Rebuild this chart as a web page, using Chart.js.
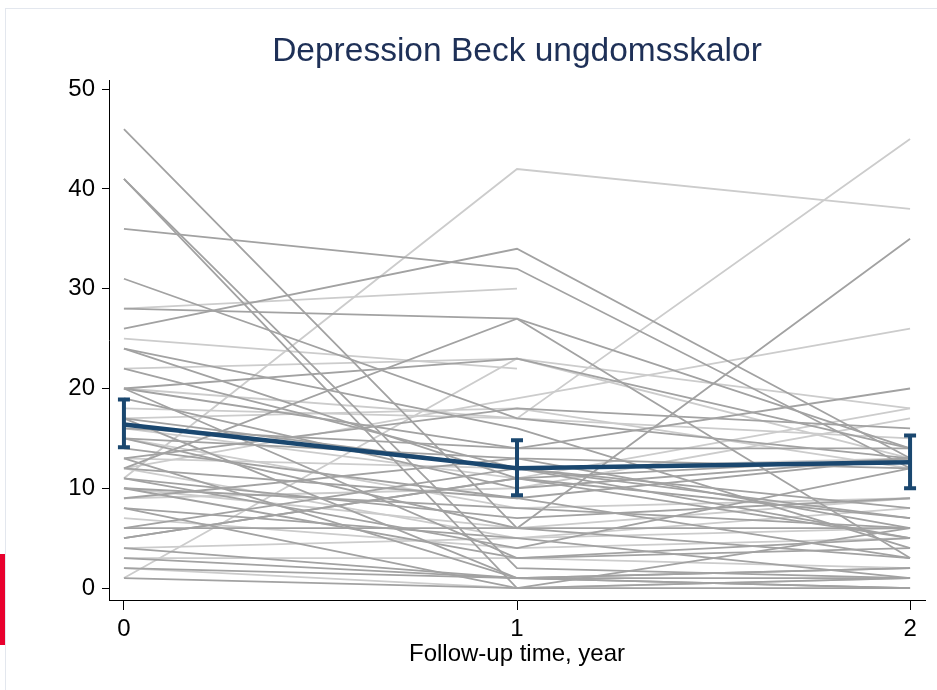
<!DOCTYPE html>
<html>
<head>
<meta charset="utf-8">
<script src="https://cdn.jsdelivr.net/npm/chart.js@4.4.1/dist/chart.umd.min.js"></script>
<style>
  body { margin: 0; background: #fff; }
  #wrap { position: relative; width: 937px; height: 690px; overflow: hidden; }
  #frame { position: absolute; left: 5px; top: 8px; width: 940px; height: 700px;
           border-left: 1px solid #e3e7ee; border-top: 1px solid #e3e7ee; }
  #mark { position: absolute; left: 0; top: 554px; width: 5px; height: 91px; background: #e8002d; }
  canvas { position: absolute; left: 0; top: 0; }
</style>
</head>
<body>
<div id="wrap">
  <div id="frame"></div>
  <div id="mark"></div>
  <canvas id="spaghetti" width="937" height="690"></canvas>
</div>
<script>
// follow-up years and axis ticks
var years = [0, 1, 2];
var yTicks = [0, 10, 20, 30, 40, 50];

// individual scores [year0, year1, year2], null = not measured
var darkSeries = [
  [46, 6, 3], [41, 2, 1], [41, 0, 0], [36, 32, 12], [31, 17, 13],
  [28, 27, 14], [26, 34, 13], [24, 11, 5], [20, 23, 14], [20, 14, 20],
  [15, 6, 35], [17, 12, 7], [16, 14, 14], [13, 18, 16], [12, 9, 13],
  [11, 4, 12], [10, 8, 6], [9, 13, 6], [8, 0, 6], [8, 5, 1],
  [12, 27, 3], [6, 6, 6], [5, 11, 13], [4, 1, 2], [3, 1, 0],
  [1, 0, 1], [22, 12, 8], [20, 3, 5], [17, 1, 0], [14, 9, 3],
  [11, 7, 9], [10, 3, 4], [6, 12, 5], [13, 1, 2], [5, 11, 7],
  [2, 1, 1], [19, 10, 13], [15, 13, 12], [24, 16, 4]
];
var lightSeries = [
  [11, 42, 38], [28, 30, null], [25, 22, null], [22, 23, 18], [18, 17, 45],
  [12, 19, 26], [20, 17, 15], [15, 8, 9], [12, 5, 8], [9, 10, 17],
  [7, 4, 5], [3, 3, 2], [2, 0, 1], [13, 12, 13], [10, 6, 9],
  [16, 11, 18], [4, 5, 6], [1, 23, 13], [17, 18, 12]
];

// mean with 95% CI
var meanScore = [16.4, 12.0, 12.6];
var ciLow = [14.1, 9.3, 10.0];
var ciHigh = [18.9, 14.8, 15.3];

function toPoints(vals) {
  var pts = [];
  vals.forEach(function (v, i) {
    if (v !== null) pts.push({ x: years[i], y: v });
  });
  return pts;
}

var datasets = [];
lightSeries.forEach(function (s) {
  datasets.push({ data: toPoints(s), borderColor: "#cccccc", borderWidth: 1.8,
                  pointRadius: 0, order: 2 });
});
darkSeries.forEach(function (s) {
  datasets.push({ data: toPoints(s), borderColor: "#a2a2a2", borderWidth: 1.8,
                  pointRadius: 0, order: 1 });
});
datasets.push({ data: toPoints(meanScore), borderColor: "#1a476f", borderWidth: 4.5,
                pointRadius: 0, order: 0 });

// capped error bars at the mean
var errorBars = {
  id: "errorBars",
  afterLayout: function (chart) {
    // centre the title over the plot region, like the original
    if (chart.titleBlock) {
      chart.titleBlock.left = chart.chartArea.left;
      chart.titleBlock.right = chart.chartArea.right;
    }
  },
  afterDatasetsDraw: function (chart) {
    var ctx = chart.ctx, xs = chart.scales.x, ys = chart.scales.y;
    ctx.save();
    ctx.strokeStyle = "#1a476f";
    ctx.lineWidth = 4;
    years.forEach(function (yr, i) {
      var px = xs.getPixelForValue(yr);
      var top = ys.getPixelForValue(ciHigh[i]);
      var bot = ys.getPixelForValue(ciLow[i]);
      ctx.beginPath();
      ctx.moveTo(px, top); ctx.lineTo(px, bot);
      ctx.moveTo(px - 6, top); ctx.lineTo(px + 6, top);
      ctx.moveTo(px - 6, bot); ctx.lineTo(px + 6, bot);
      ctx.stroke();
    });
    ctx.restore();
  }
};

var tickFont = { family: "'Liberation Sans', Arial, sans-serif", size: 24 };

new Chart("spaghetti", {
  type: "line",
  data: { datasets: datasets },
  plugins: [errorBars],
  options: {
    responsive: false,
    animation: false,
    devicePixelRatio: 1,
    layout: { padding: { left: 0, right: 12, top: 0, bottom: 0 } },
    plugins: {
      legend: { display: false },
      tooltip: { enabled: false },
      title: {
        display: true,
        text: "Depression Beck ungdomsskalor",
        color: "#1e3057",
        font: { family: "'Liberation Sans', Arial, sans-serif", size: 33.5, weight: "normal" },
        padding: { top: 32, bottom: 8 }
      }
    },
    scales: {
      x: {
        type: "linear",
        min: -0.038,
        max: 2.038,
        afterBuildTicks: function (axis) {
          axis.ticks = years.map(function (v) { return { value: v }; });
        },
        afterFit: function (axis) { axis.height = 90; },
        grid: { drawOnChartArea: false, drawTicks: true, tickLength: 10, color: "#000" },
        border: { display: true, color: "#000", width: 1 },
        ticks: { color: "#000", font: tickFont, padding: 5, maxRotation: 0 },
        title: {
          display: true,
          text: "Follow-up time, year",
          color: "#000",
          font: tickFont,
          padding: { top: 0, bottom: 21 }
        }
      },
      y: {
        type: "linear",
        min: -1.2,
        max: 50.9,
        afterBuildTicks: function (axis) {
          axis.ticks = yTicks.map(function (v) { return { value: v }; });
        },
        afterFit: function (axis) { axis.width = 109; },
        grid: { drawOnChartArea: false, drawTicks: true, tickLength: 7, color: "#000" },
        border: { display: true, color: "#000", width: 1 },
        ticks: { color: "#000", font: tickFont, padding: 7 }
      }
    }
  }
});
</script>
</body>
</html>
